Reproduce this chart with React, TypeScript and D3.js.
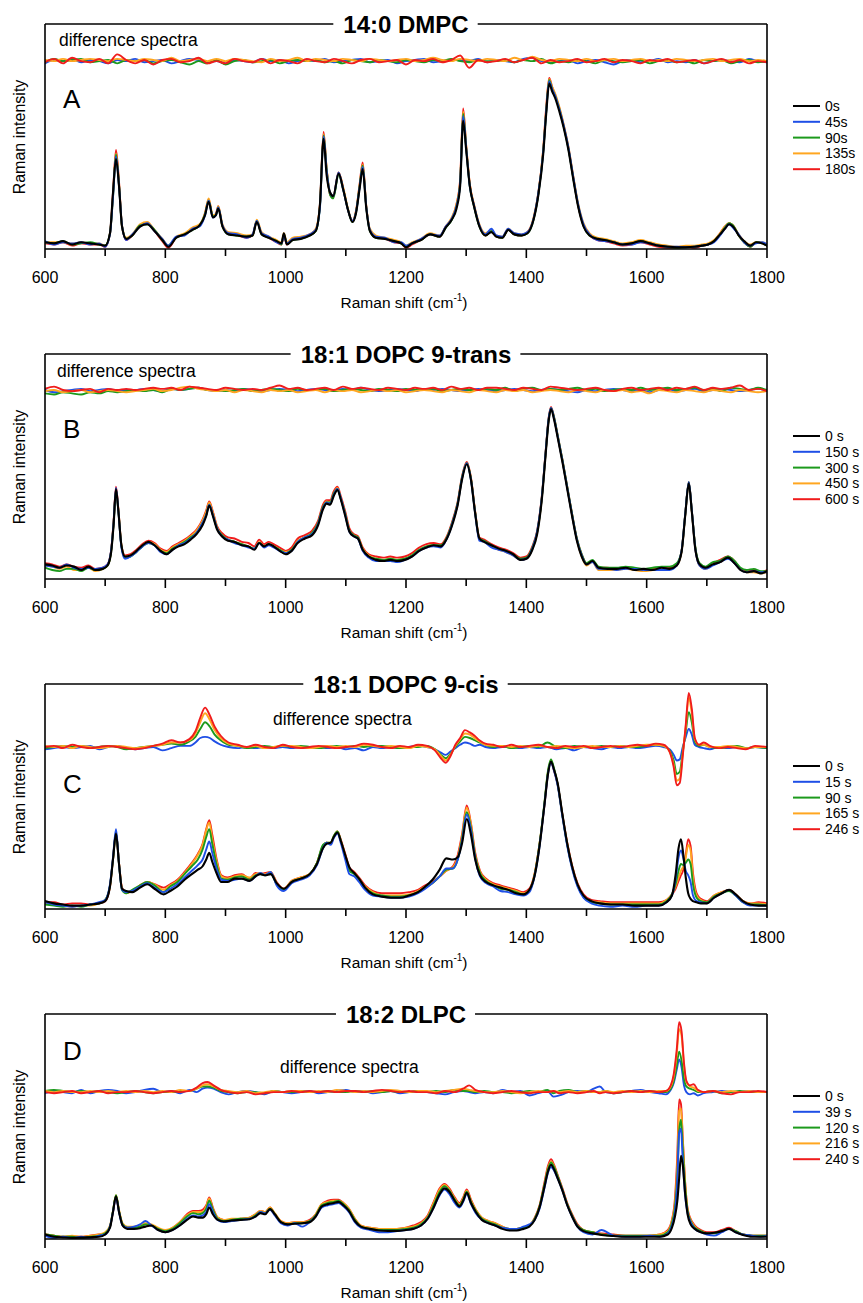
import React, { useLayoutEffect, useRef, useState } from 'react';
import * as d3 from 'd3';

// ---------- shared categories ----------
const MAJOR_TICKS = [600, 800, 1000, 1200, 1400, 1600, 1800];
const MINOR_TICKS = [700, 900, 1100, 1300, 1500, 1700];
const COLORS = ['#000000', '#1f4fe6', '#1c9a1c', '#ffa620', '#f01c1c'];

const TITLES = ['14:0 DMPC', '18:1 DOPC 9-trans', '18:1 DOPC 9-cis', '18:2 DLPC'];
const LETTERS = ['A', 'B', 'C', 'D'];
const LEGEND_A = ['0s', '45s', '90s', '135s', '180s'];
const LEGEND_B = ['0 s', '150 s', '300 s', '450 s', '600 s'];
const LEGEND_C = ['0 s', '15 s', '90 s', '165 s', '246 s'];
const LEGEND_D = ['0 s', '39 s', '120 s', '216 s', '240 s'];

// ---------- Panel A (14:0 DMPC) ----------
const xA = [
  600,615,630,645,660,675,690,700,708,713,
  718,723,728,735,745,758,770,782,795,805,
  818,832,845,857,866,872,879,884,888,895,
  905,920,935,945,952,960,972,985,993,997,
  1002,1012,1025,1040,1050,1057,1063,1068,1074,1079,
  1088,1096,1104,1111,1117,1123,1128,1134,1140,1150,
  1165,1180,1192,1200,1210,1225,1240,1256,1266,1276,
  1284,1290,1295,1300,1306,1313,1322,1332,1342,1350,
  1360,1370,1380,1392,1402,1412,1420,1428,1433,1438,
  1443,1448,1455,1462,1470,1478,1486,1495,1505,1518,
  1530,1545,1560,1575,1590,1605,1620,1635,1650,1665,
  1680,1692,1702,1712,1722,1730,1737,1745,1753,1762,
  1772,1782,1792,1800];
const mainA_0s = [
  3,2.5,3.5,2,3,2.5,2,1.5,7,25,
  40,28,10,4.5,6,10,11,8,4,1,
  5,6.5,8.5,10.5,15,21,14,15,18,10,
  6.5,6,5.5,6,12,6.5,5,3.5,2.5,7,
  2,4,4.5,6,8,20,49,33,25,23.5,
  33.5,26,17,12,16,27,35.5,18,8,5,
  4.5,3.5,2.5,0.8,2.5,4,6.5,5.5,9.5,13,
  18,28,57,44,28,19,10,6,7.5,5.5,
  5,8.5,6.5,6,7,13,24,42,60,73.5,
  70,67,61,54,44,31,19,10,6,4.5,
  4,3,2,2.5,3.5,2.5,1.5,1,0.8,0.8,
  1,1.5,2,3.5,6.5,9,11,9.5,6,3.5,
  1.5,3,2.5,1.5];
const mainA_45s = [
  3.5,2,3,2.5,3,2,2.5,1,6.5,23,
  41,28,10.5,4,6.5,10,11.5,8,4.5,1.5,
  5.5,6,9,10,15,21.5,14,15,18.5,10.5,
  7,6.5,5,6.5,12.5,7,5.5,3,2.5,6,
  2.5,4.5,5,6.5,8.5,18.5,50,35,25,23.5,
  34,26,17,12.5,16.5,27.5,36.5,18.5,8.5,5.5,
  5,3,3,1.5,2.5,4.5,6.5,6,10,13.5,
  19,29,59,45,28,19.5,10.5,6.5,9,6,
  5.5,9,7,6.5,7.5,13.5,25,43,61,74.5,
  71,68,62,55,45,32,20,11,6.5,4,
  3.5,3,2,2,3,2.5,1.5,1,1,0.8,
  1,1.5,2,3,6,9,11,9,6.5,3,
  1.5,2.5,3,2];
const mainA_90s = [
  3,2.5,3.5,2,2.5,3,2,1.5,7,23,
  42,28.5,10,4.5,6,10.5,11,8.5,4,1.5,
  5,6.5,8.5,10.5,15.5,21.5,14.5,15,18.5,10,
  6.5,6,5.5,6,12.5,6.5,5,3.5,2,6.5,
  2.5,4,4.5,6,8,19,50.5,35.5,24,22.5,
  33,26,17,12,16.5,28,37,18.5,8,5,
  4.5,3.5,2.5,1,2.5,4,6.5,5.5,9.5,13,
  19,29.5,60,45,28,19,10,6,8,5.5,
  5,8.5,6.5,6,7,13,24.5,43,61,75,
  71,68,62,54.5,44.5,31.5,19.5,10.5,6,4.5,
  4,3,2,2.5,3.5,2.5,1.5,1,0.5,0.8,
  1,1.5,2,3.5,6.5,9.5,11.5,10,6,3,
  1,3,2.5,1.5];
const mainA_135s = [
  3,3,3,2.5,3,2.5,2.5,1.5,6.5,23.5,
  42.5,29,10.5,5,6.5,11,12,8.5,4.5,1.5,
  5.5,7,9.5,11,16,22.5,15,15.5,19,11,
  7.5,7,6,6.5,13,7.5,5.5,4,3,7,
  3,5,5.5,6.5,9,19.5,51,36,25,23.5,
  34,27,17.5,12.5,17,28.5,37.5,19,9,6,
  5,4,3,1.5,3,4.5,7,6,10,14,
  20,30,61,46,29,20,11,7,8.5,6,
  5.5,9,7,6.5,7.5,14,25,44,62,75.5,
  72,69,63,55.5,45.5,32.5,20.5,11.5,7,5,
  4.5,3.5,2.5,3,4,3,2,1.5,1,1.5,
  1.5,2,2.5,4,7,10,11.5,10,6.5,3.5,
  2,3,3,2];
const mainA_180s = [
  2.5,2,3,1.5,2.5,2,2,1,7,25,
  44,30,10,4,6,10.5,11.5,8,3.5,0.5,
  5,6.5,9,10.5,16,22,14.5,15.5,19,10,
  7,6,5,6,12.5,7,5,3,2,6,
  2,4.5,5,6.5,8.5,20,52,36,24,23,
  34,26.5,17,12.5,17,29,38.5,19,8.5,5,
  4.5,3,2.5,0.5,2,4,6.5,5.5,10,13.5,
  20,31,62.5,46,29,19.5,10.5,6,8,5.5,
  5,8.5,6.5,6,7.5,13.5,25,44,63,76,
  72,68.5,62.5,55,45,32,19.5,10.5,6,4,
  3.5,2.5,1.5,2,3,2,1,0.5,0.5,1,
  0.5,1.5,2,3.5,7,10,11.5,10,6,3,
  1,3,2.5,1.5];

// difference spectra grid shared by A and B
const xDiffAB = [
  600,615,630,645,660,675,690,705,720,735,
  750,765,780,795,810,825,840,855,870,885,
  900,915,930,945,960,975,990,1005,1020,1035,
  1050,1065,1080,1095,1110,1125,1140,1155,1170,1185,
  1200,1215,1230,1245,1260,1275,1290,1305,1320,1335,
  1350,1365,1380,1395,1410,1425,1440,1455,1470,1485,
  1500,1515,1530,1545,1560,1575,1590,1605,1620,1635,
  1650,1665,1680,1695,1710,1725,1740,1755,1770,1785,
  1800];
const diffA_45s = [
  -1,0.5,0,1,-0.5,0.5,0,-1,0.5,0,
  1,-0.5,0,0.5,-1,0,1,0.5,-0.5,0,
  -1,0.5,0,-0.5,1,0,0.5,-1,0,0.5,
  0,1,-0.5,0,0.5,1,-0.5,0,0.5,-1,
  0,0.5,1,-0.5,0,0.5,0.5,0,1,-0.5,
  0.5,0,-0.5,1,1.5,0,-0.5,0,0.5,-1,
  0,0.5,-0.5,-1.5,0,0.5,-0.5,0,1,-0.5,
  0,-0.5,0.5,-1,0,0.5,0,-0.5,1,0,
  -0.5];
const diffA_90s = [
  -0.5,1,0,0.5,1,-0.5,0,0.5,-1,0.5,
  0,0.5,-1,0,0.5,-0.5,-1.5,0,-1,0.5,
  -1.5,0,0.5,-0.5,0,0.5,-1,0,0.5,0,
  0.5,-0.5,0,-1,0.5,0,-0.5,0.5,0,-0.5,
  0.5,0,-0.5,0.5,0,1,0,-0.5,0.5,0,
  0,0.5,-0.5,0.5,0,1,-1,0,-0.5,0.5,
  0,-1,0.5,0,-0.5,0,0.5,-1,0,0.5,
  -0.5,0,-1,0.5,0,0.5,-1,0,0.5,-0.5,
  0];
const diffA_135s = [
  0.5,0,1,0,0.5,1,0.5,0,1,0.5,
  0,1,0.5,0,1.5,0,0.5,1,0,1,
  0,1,0.5,0,-0.5,1,0,0.5,1.5,0,
  1,0.5,0,1,0.5,0,1,0.5,0,0.5,
  1,0,0.5,1.5,0.5,0,1,0.5,0,1,
  0.5,0,1.5,0.5,2,0.5,0,1,0.5,0,
  1,0,0.5,1,0,0.5,1,0,0.5,0,
  1,0.5,0,0.5,1,0,0.5,1,0,0.5,
  0];
const diffA_180s = [
  -0.5,1,-1,1.5,0,-0.5,1,-1,3,0.5,
  -1,0.5,-1.5,0.5,1,-0.5,0,1.5,-1,0,
  -1,1,0,-0.5,1,-1,0.5,0,-1,1,
  0,-0.5,1,0,-1,0.5,1,-0.5,0,0.5,
  -1.5,0.5,0,1,-0.5,0.5,2.5,-3,0.5,-0.5,
  0,1,-0.5,0.5,1.5,-1,0.5,-0.5,0,1,
  -0.5,0,1,-0.5,0.5,0,-1,0.5,0,1,
  -0.5,0,0.5,-1,0,1,-0.5,0.5,-1,0,
  -0.5];

// ---------- Panel B (18:1 DOPC 9-trans) ----------
const xB = [
  600,612,624,636,648,660,672,684,696,704,
  710,714,718,722,727,733,742,752,762,772,
  782,792,802,812,822,832,842,852,862,868,
  873,879,886,894,904,915,927,938,948,956,
  964,972,980,990,1000,1010,1020,1032,1044,1054,
  1062,1068,1074,1080,1086,1092,1099,1106,1113,1120,
  1128,1138,1150,1162,1174,1186,1198,1210,1222,1234,
  1246,1258,1268,1278,1286,1293,1301,1308,1315,1322,
  1330,1342,1354,1366,1378,1390,1400,1410,1418,1426,
  1432,1437,1441,1446,1452,1460,1468,1476,1484,1492,
  1500,1510,1520,1535,1550,1565,1580,1595,1610,1625,
  1638,1650,1658,1664,1670,1675,1681,1688,1698,1710,
  1722,1735,1746,1756,1766,1778,1790,1800];
const mainB_0s = [
  6.5,6,5,6,5.5,4,5.5,4,4.5,6,
  12,24,40,30,15,10,10.5,12.5,15,16.5,
  15,12.5,11,13,14.5,15.5,17.5,20,24,28,
  32.5,28,22,19,17,16.5,15,14.5,13,16,
  14.5,15.5,14.5,12.5,11,12.5,16,18,19.5,24,
  31,33.5,33,37,39.5,35,28,21,19,18,
  13,10,8.5,8,8.5,8,8.5,10,12.5,14,
  15,14.5,18,25,33,44,51,44,29,18,
  16.5,15,13.5,12.5,11,8.5,9,13,20,36,
  55,70,75.5,71,63,52,40,28,17,10,
  6.5,8,5,4.5,4.5,5,4,4.5,4,5,
  4.5,6,12,28,42.5,30,13,6.5,5,6.5,
  7.5,9.5,7,4,3,3.5,2.5,3.5];
const mainB_150s = [
  6,5.5,5,6.5,5,4.5,5,4.5,5,6.5,
  13,25,40.5,30,14,9,10,12,14.5,16,
  15,12,11,13,15,16,18,20.5,25,28.5,
  33,28.5,22.5,19,17.5,16,15,14,13.5,16,
  14,15,14,12.5,11.5,12.5,16.5,18.5,20,24.5,
  31.5,34,33.5,37.5,40,35.5,28.5,21,19,18,
  12.5,9.5,8,8,8,7.5,8.5,10,12.5,14,
  14.5,14,18,25.5,33.5,44.5,51.5,44,29,17,
  16.5,14,13,12,10.5,8.5,9,13.5,21,37,
  56,71,76,71.5,63.5,52.5,40.5,28.5,17.5,10.5,
  6.5,7.5,4.5,4.5,4,4.5,4.5,4,4,4,
  4,6,12.5,28.5,43,30.5,13,6,4.5,6,
  7.5,9,7,4,3,3.5,3,3];
const mainB_300s = [
  5,4,3.5,4.5,4.5,3.5,5,4,4.5,6,
  12.5,24.5,39.5,30,14.5,9.5,10,12,14.5,16,
  15,12.5,11.5,13.5,15,16.5,18.5,20.5,25,28.5,
  33,28.5,22.5,19.5,17.5,16.5,15.5,14.5,13.5,16,
  14.5,15.5,14.5,13,11.5,13,16.5,18.5,20.5,25,
  32,34,34,38,40,35.5,29,21.5,19.5,18.5,
  13,10,9,8.5,9,8.5,9,10.5,13,14.5,
  15,15,18.5,26,34,45,51.5,44.5,29.5,18,
  17,15,13.5,12.5,11,9,9.5,14,21,37,
  56,71,76,72,64,53,41,29,18,11,
  7,8.5,5.5,5,5,5.5,5,4.5,5,5.5,
  5.5,7,12.5,28.5,43,30.5,14,7,5.5,7.5,
  8,10,8,5,4,4.5,3.5,3.5];
const mainB_450s = [
  6,5.5,4.5,5.5,4,4,5,3.5,4.5,6,
  12.5,25,40,30.5,15,10,10.5,12.5,15,16.5,
  15.5,13,12,14,15.5,17,19,21.5,26,30,
  34,29.5,23,19.5,17.5,16.5,15.5,14.5,13.5,16.5,
  14.5,15.5,14.5,13,12,13,17,18.5,20.5,25,
  32,34.5,34,38,40.5,35.5,29,21.5,19.5,18.5,
  13.5,10.5,9,8.5,9,8.5,9,10.5,13,14.5,
  15,14.5,18.5,25.5,33.5,44.5,51.5,44.5,29.5,17.5,
  16.5,14.5,13,12,10.5,8.5,9,13.5,20.5,36.5,
  55.5,70.5,75.5,71.5,63.5,52.5,40.5,28.5,17.5,10,
  6,7.5,4,4,4,4.5,4,3.5,4,4.5,
  4.5,6,12,28,42.5,30,13,6,4.5,6.5,
  7.5,9.5,7,4,3,3,2.5,3];
const mainB_600s = [
  7,6.5,5.5,6.5,5.5,5,6,4.5,5,6.5,
  13,25.5,41,31,15,10.5,11,13,15.5,17,
  16,13.5,12.5,14.5,16,17.5,19.5,22,26.5,30.5,
  34.5,30,23.5,20.5,18.5,18,16.5,16,14.5,17.5,
  15.5,16.5,15.5,14,12.5,14,18,19.5,21.5,26,
  33,35,35,39,41,36.5,30,22.5,20,19,
  14,11,10,9.5,10,9.5,10,11.5,14,15.5,
  16,15.5,19,26.5,34.5,45.5,52,45,30,18.5,
  17.5,15.5,14,13,11.5,9.5,10,14.5,21.5,37.5,
  56.5,71.5,76.5,72,64,53,41,29,18,11,
  7,8,5,5,4.5,5,4.5,4,4.5,5,
  5,6.5,12.5,28.5,43,30.5,13.5,6.5,5,7,
  8.5,10,8,4.5,3.5,4,3,4];
const diffB_150s = [
  0,-1,-0.5,0,0.5,-0.5,0,0.5,-0.5,0,
  0,0.5,0,-0.5,0.5,0,0.5,1,0,-0.5,
  0,-0.5,0.5,0,-0.5,0,0.5,0,-0.5,0,
  0.5,0,-0.5,0.5,0,1,0,-0.5,0,0.5,
  0,-0.5,0.5,0,0.5,0,-0.5,0,0.5,0,
  -0.5,0,0.5,0,-0.5,0,0.5,0,-0.5,-1,
  0,-0.5,0,0.5,0,-0.5,0,-1,0,0.5,
  -0.5,0,0.5,-0.5,0,0.5,0,-0.5,0,0.5,
  -0.5];
const diffB_300s = [
  -1.5,-2,-1,-1.5,-2,-1,-1.5,-0.5,-1,-0.5,
  0,-0.5,0,-1,0.5,0,0.5,1,0,0,
  -0.5,0,0.5,-0.5,0,0.5,0,-0.5,0.5,0,
  0,0.5,-0.5,0,0.5,0,-0.5,0.5,0,-0.5,
  0.5,0,0,0.5,-0.5,0,0.5,0,0,0.5,
  0,1,-0.5,0.5,1,0,0.5,0,0.5,1,
  0,0.5,-0.5,0,0.5,0,1,0,0.5,1,
  0,0.5,1,0,0.5,-0.5,1,0.5,0,1,
  0];
const diffB_450s = [
  -0.5,0,-1,-0.5,0,-1,-0.5,0,-0.5,-1,
  -0.5,0,0.5,-0.5,0,1,1.5,0.5,0,-0.5,
  0,-1,0,-0.5,-1,0,-0.5,0,-1,-0.5,
  0,-1,0,-0.5,0,-1,-0.5,0,-0.5,0,
  -1,-0.5,0,-0.5,-1,0,-0.5,-1,0,-0.5,
  -1,0,-0.5,0,-1,-0.5,0,-0.5,-1,0,
  -0.5,-1,0,-0.5,0,-1,-0.5,-1.5,0,-0.5,
  -1,0,-0.5,-1,0,-0.5,-1,0,-0.5,-1,
  -0.5];
const diffB_600s = [
  0.5,1.5,0,-0.5,0,0.5,-1,0.5,0,0.5,
  0,0.5,1,0.5,1,0,1.5,1,0.5,0,
  1,0.5,0,0.5,0,1,2,0.5,1,0,
  0.5,1,0,1.5,0.5,1,0.5,0,1,0.5,
  0,1,0.5,1,0,1.5,0.5,1,0,1,
  1,0.5,0,1,0.5,0,1.5,1,0.5,0,
  0.5,1,0,-0.5,0.5,1,0,0.5,1,0,
  1,0.5,1.5,0,1,0.5,1,2,0,0.5,
  -0.5];

// ---------- Panel C (18:1 DOPC 9-cis) ----------
const xC = [
  600,615,630,645,660,675,690,700,708,713,
  718,723,728,735,745,758,770,782,797,808,
  820,832,844,854,862,868,873,878,885,893,
  903,915,927,940,950,958,966,975,985,997,
  1010,1025,1040,1052,1062,1068,1075,1080,1086,1092,
  1099,1106,1114,1122,1132,1145,1160,1175,1190,1205,
  1220,1232,1244,1256,1267,1278,1286,1293,1301,1308,
  1315,1323,1333,1345,1357,1370,1383,1395,1405,1414,
  1422,1430,1436,1441,1446,1452,1460,1468,1476,1485,
  1495,1508,1522,1540,1560,1580,1600,1620,1633,1642,
  1648,1653,1657,1661,1665,1669,1673,1677,1683,1690,
  1700,1712,1725,1737,1748,1760,1772,1786,1800];
const mainC_0s = [
  3.5,2.5,2,1.5,1.5,2,2.5,3.5,10,22,
  33.5,20,9,8,7.5,9.5,11,9,6.5,8,
  10,13,15.5,17.5,19,22,25,21,16,12,
  12,13.5,13.5,12.5,14.5,15.5,15,15.5,11.5,9,
  12,13.5,15.5,20,27,29,29.5,32,34,30,
  24,18.5,16,13.5,9.5,6.5,5.5,5,5,6,
  7.5,10,13,17.5,22.5,22,23,29,40,33,
  22,15,12,10.5,9.5,8.5,7,6.5,8.5,15,
  28,46,60,65.5,62,56,42,29,19,11,
  6,3.5,2.5,2,2,1.5,1.5,1.5,3,6,
  15,27,31,24,14,7,4.5,3.5,3,2.5,
  2.5,5,7,8.5,6.5,3.5,2,1.5,1.5];
const mainC_15s = [
  3,2,1.5,1,1.5,2,3,4,11,23,
  35.5,20,8.5,7.5,8,10,11.5,9.5,7.5,9,
  11,14,17,19.5,22,26.5,30,25,18,13,
  12.5,13,13.5,12.5,14.5,16,15,16.5,10.5,8,
  11.5,13,15,19.5,27,29.5,28.5,31.5,33.5,29,
  22,15.5,14.5,12,8.5,6,5.5,5,5,5.5,
  7,9,11.5,14.5,18,18,22,30,42,35,
  22.5,14.5,11.5,10,8,7.5,6.5,6,7.5,15,
  28,46,60,65,61.5,55,41,28,18,10,
  5,2.5,1.5,1,1.5,1,1.5,1.5,3,6,
  13,23,26,22.5,17,15,12,6,3.5,3,
  2.5,5,7,8.5,6,3,1.5,1.5,1.5];
const mainC_90s = [
  2,1.5,1,1.5,1,2,2.5,4,10.5,22,
  34,20,8.5,7,8.5,10.5,12,10.5,7.5,10,
  12,15.5,19,22,26.5,32,35.5,29,20,13.5,
  13,14,14.5,13,15,15.5,15,16,11,8.5,
  12,13.5,15.5,20.5,28.5,29.5,29.5,32.5,34.5,30,
  23.5,17,15.5,13,9.5,7,6,5.5,5.5,6,
  7.5,9.5,11.5,14.5,17.5,18,22,31,43,36,
  23.5,16,12.5,10.5,9,8.5,7.5,6.5,8,15.5,
  29,47,61.5,66.5,62.5,55.5,41.5,28.5,18.5,10.5,
  5.5,3,2.5,2,2,2,2,2,3.5,6.5,
  11,17,20,19.5,20.5,22,20,11,5,3.5,
  3,5.5,7,8,6,3,2,2,1.5];
const mainC_165s = [
  2.5,2,1.5,1,1.5,1.5,2.5,4,10,22.5,
  34,20.5,9,7,8,10.5,12,11,8.5,10.5,
  12.5,16,20,24,28.5,35,38.5,31,21.5,14.5,
  13.5,14.5,15,14,15.5,16,15.5,16.5,11.5,9,
  12.5,14,15.5,20.5,28,29.5,29.5,32.5,34.5,30,
  24,18,16,13.5,10,7.5,6,6,6,6.5,
  8,10,11.5,14.5,17,18.5,23,32,45,37.5,
  24,16.5,13,11,10,9,8,7,8.5,16,
  29,46.5,61,66,62,55.5,41.5,29,19,11,
  6,3.5,3,2.5,2.5,2.5,2.5,2.5,4,6.5,
  10,14,17,19,23,28.5,26,14,6,4,
  3,6,7.5,8.5,6.5,3.5,2.5,2.5,2];
const mainC_246s = [
  3,3,2,2.5,2.5,2,2.5,3.5,10,22,
  33.5,20.5,9.5,7.5,8,10.5,12,11,9.5,11,
  13,16.5,20.5,24.5,29,35.5,39.5,33,22.5,15,
  14,15,15.5,13.5,16,15.5,16,16.5,12,9,
  12.5,14,15.5,20.5,28,29.5,29,32,34.5,30.5,
  24.5,18.5,16.5,14,10.5,8,7,7,7,7.5,
  8.5,10.5,12,14.5,17,19,24,33,46,38,
  25,17,13.5,11.5,10.5,9.5,8.5,7.5,9,16,
  29,46,60.5,65.5,61.5,55.5,42,29.5,19.5,11.5,
  6.5,4,3.5,3,3,3,3,3,4,6.5,
  9,12.5,15,17.5,24,31,28,16,7,4.5,
  3.5,6,7.5,8.5,6.5,3.5,2.5,3,2.5];
const xDiffC = [
  600,615,630,645,660,675,690,705,720,735,
  750,765,780,795,810,825,840,850,858,866,
  874,882,892,905,920,935,950,965,980,995,
  1010,1025,1040,1055,1070,1085,1100,1115,1130,1145,
  1160,1175,1190,1205,1220,1235,1248,1258,1266,1274,
  1282,1290,1298,1306,1314,1322,1332,1345,1360,1375,
  1390,1405,1420,1435,1450,1465,1480,1495,1510,1525,
  1540,1555,1570,1585,1600,1615,1628,1638,1645,1650,
  1655,1660,1665,1670,1675,1680,1687,1695,1705,1720,
  1735,1750,1765,1780,1800];
const diffC_15s = [
  -1,-0.5,0,-0.5,0,0.5,-1,0,0.5,-0.5,
  -1,-0.5,0,-1.5,-0.5,0.5,0.5,2,4,4.5,
  4,2.5,1,0,-0.5,0,-0.5,0,-0.5,0,
  -0.5,0,-0.5,0,-0.5,0,-1,-0.5,-1.5,0,
  -0.5,0,-0.5,0,0.5,0,-1,-2.5,-3.5,-2,
  -0.5,1,2,1.5,0.5,1,0,-0.5,0,0,
  -0.5,0,-0.5,0,-1,-0.5,-1.5,0,-0.5,-1,
  0,-0.5,0,-0.5,0,0.5,0,-1,-3.5,-6,
  -5.5,0,4.5,8,5.5,1,0,-0.5,-1,0,
  -0.5,0,-0.5,0,-0.5];
const diffC_90s = [
  -0.5,0,0.5,0,0.5,-0.5,0,0.5,0,-1,
  -0.5,0,0.5,1,1.5,1,2.5,4.5,8,11,
  9,5.5,3,1,0.5,-0.5,0,0.5,0,0.5,
  0,0.5,0,-0.5,0,0.5,0,0.5,0,0.5,
  0.5,0,-0.5,0,0,0.5,-1,-3.5,-5,-3,
  0,2.5,4.5,4,3,2,1,0,0.5,-0.5,
  0,0.5,0,2,0,-0.5,0.5,0,0,0.5,
  0,0.5,0,0,0.5,1,0.5,-1.5,-6,-12,
  -11,-2,7,15.5,11,2.5,0.5,1,0,-0.5,
  0,0.5,-0.5,0,-0.5];
const diffC_165s = [
  0.5,0,0.5,-0.5,0.5,0,-0.5,0,0.5,0,
  -0.5,0,0.5,1,2,2,3,6,11,15,
  12,7.5,4,1.5,0.5,0,0.5,-0.5,0,0.5,
  0.5,0,-0.5,0,0.5,0,0.5,0,1,0.5,
  0,0.5,0,-0.5,0.5,0,-1,-4,-6,-3.5,
  0.5,3.5,6,5.5,4,2.5,1,0.5,0.5,0,
  0.5,0,0.5,0,0.5,0,-0.5,0,0.5,0,
  0,0.5,0,0.5,1,1,0.5,-2,-8,-15,
  -14,-3,9,22,15,3.5,1,1,0,0,
  0.5,0,-0.5,0,0];
const diffC_246s = [
  0,0.5,-0.5,1,0,-0.5,0,0.5,0,-0.5,
  -1,-0.5,0.5,1.5,3,2,3.5,7,13,17.5,
  14,9,5,2,1,0,1,0,-0.5,1,
  0,-0.5,0,0.5,0,-0.5,0,0.5,1.5,1,
  0,-0.5,0.5,0,1,0.5,-1.5,-5,-7,-4,
  1,4,7.5,6.5,5,3,1.5,1,0,1,
  0,0.5,1,0,-0.5,0.5,0,0.5,-0.5,0,
  0.5,0,0.5,1,0.5,1.5,1,-2,-9,-17,
  -16,-4,10,24,17,4,1,2,0.5,-0.5,
  0,-0.5,-1,0.5,0];

// ---------- Panel D (18:2 DLPC) ----------
const xD = [
  600,615,630,645,660,675,690,700,708,713,
  718,723,729,737,748,758,767,777,788,800,
  812,824,836,846,855,862,868,873,879,887,
  897,910,925,940,950,958,966,974,982,992,
  1003,1015,1028,1040,1050,1060,1070,1080,1088,1096,
  1105,1115,1125,1140,1155,1170,1185,1200,1212,1225,
  1236,1246,1256,1264,1272,1281,1289,1295,1301,1308,
  1316,1326,1337,1348,1360,1372,1384,1395,1405,1414,
  1422,1430,1436,1441,1446,1452,1460,1468,1476,1485,
  1495,1510,1525,1545,1565,1585,1605,1622,1635,1642,
  1647,1651,1654,1657,1660,1664,1668,1673,1680,1690,
  1700,1712,1725,1737,1748,1760,1775,1790,1800];
const mainD_0s = [
  2,1,0.7,0.5,0.6,0.8,1,2,5,12,
  19,12,6,4.5,4.5,4.8,5.5,6,4,3,
  4,6,8.5,10,9.5,9.5,11,14,11,8.5,
  7.8,8.2,8.5,8.8,10,11.5,11,13.3,11,7.5,
  6.5,6.8,7,7.5,10,14.5,15.5,16,16.5,15,
  12.5,8,5.5,4.5,3.8,3.6,3.6,4,4.5,6,
  9,14,20,22.5,21,17,14.5,17,20.5,16,
  12,8.5,7,6,4.5,3.8,3.8,4.5,5.5,8.5,
  14,23,30,33,31,27,21.5,15,10,5.5,
  3.5,2.5,1.8,1.3,1,1,1,1,2,5,
  10,17,27,37,33,20,11,6.5,4.5,3,
  2.5,2.8,3.5,4.5,3,1.8,1,1,1];
const mainD_39s = [
  1.5,0.5,1,0.5,1,0.5,1.5,2,5.5,12,
  18.5,12,6,5,5.5,6.5,8,6,4,3,
  4,6,9,10.5,10,10.5,12,15.5,12,8.5,
  7.5,8,8.5,9,10,12,11.5,13,10.5,7,
  6,7,5.5,7.5,10,14,15,15.5,16,14.5,
  12,7.5,5,4,3,3,3.5,4,4.5,6,
  9,14,19.5,22,20,16,14,16.5,20,15.5,
  11.5,8.5,7,6,5,4.5,4.5,5.5,6.5,8.5,
  13.5,22.5,29.5,32,30.5,27,21.5,15,10,5.5,
  3,2,4,1.5,1,1,1.5,1,2.5,6,
  12,26,47,49,35,19,11.5,7.5,4.5,3,
  2,1.5,3,4.5,3,2,1.5,1,1.5];
const mainD_120s = [
  2,1.5,1,1,0.5,1,1.5,2.5,5.5,12.5,
  19.5,12.5,6.5,5,5,5.5,6.5,6,4.5,3.5,
  4.5,7,10,11.5,11,11.5,13.5,17,13,9,
  8,8.5,9,9,10.5,12,11.5,13.5,11,7.5,
  6.5,7,7,8,10.5,15,16,16.5,17,15.5,
  13,8.5,5.5,4.5,4,4,4,4.5,5,6.5,
  9.5,15,21,23.5,21.5,17.5,15,17.5,21,16.5,
  12.5,9,7.5,6.5,5,4.5,4.5,5,6,9,
  14.5,24,31,34,32,28,22,15.5,10.5,6,
  4,3,2,1.5,1.5,1.5,1.5,1.5,3,7,
  14,28,48,53,40,23,12.5,8,5,3.5,
  2.5,2.5,3.5,4.5,3.5,2,1.5,1.5,1.5];
const mainD_216s = [
  2,1.5,1,1.5,1,1.5,2,3,6,12.5,
  19.5,13,7,5.5,5.5,6,7,6.5,5,4,
  5,7.5,10.5,12,12,12,14.5,18,13.5,9.5,
  8.5,9,9,9.5,11,12.5,12,14,11.5,8,
  7,7.5,7.5,8,11,15.5,16.5,17,17,16,
  13.5,9,6,5,4.5,4.5,4.5,5,5.5,7,
  10,16,22,24,22,18,15.5,18,21.5,17,
  13,9.5,8,7,5.5,4.5,4.5,5,6,9,
  14.5,24,31.5,34.5,32.5,28,22,15.5,10.5,6,
  4,3,2,1.5,1.5,1.5,1.5,2,3.5,8,
  16,33,57,58,44,25,13,8.5,5.5,3.5,
  2.5,2.5,3.5,4.5,3.5,2,1.5,1.5,1.5];
const mainD_240s = [
  2,1.5,1,1,1,1.5,2,2.5,5.5,12,
  19,12.5,6.5,5,5,5.5,6.5,6,4.5,3.5,
  5,7.5,11,12.5,12.5,13,15,18.5,14,9.5,
  8.5,8.5,9,9.5,11,12.5,12,14,11,8,
  7,7.5,7.5,8.5,11,15.5,17,17.5,17.5,16,
  13.5,9,6,5,4.5,4.5,4.5,5,6,7.5,
  10.5,16.5,22.5,24.5,22.5,18.5,16,18.5,22,17.5,
  13,9.5,8,7,5.5,4.5,4.5,5,6,9.5,
  15,25,32.5,35.5,33,28.5,22.5,16,11,6.5,
  4,3,2.5,2,1.5,1.5,1.5,2,4,8.5,
  18,38,62,60,45,25,13.5,9,6,4,
  3,3,4,5,3.5,2,1.5,1.5,1.5];
const xDiffD = [
  600,615,630,645,660,675,690,705,720,735,
  750,765,780,795,810,825,840,852,862,870,
  880,892,905,920,935,950,965,980,995,1010,
  1025,1040,1055,1070,1085,1100,1115,1130,1145,1160,
  1175,1190,1205,1220,1235,1250,1265,1280,1295,1305,
  1315,1330,1345,1360,1375,1390,1405,1420,1435,1445,
  1455,1470,1485,1500,1512,1522,1532,1545,1560,1575,
  1590,1605,1620,1632,1640,1645,1650,1654,1658,1662,
  1666,1672,1678,1685,1695,1710,1725,1740,1755,1770,
  1785,1800];
const diffD_39s = [
  -0.5,0.5,0,-0.5,1,-0.5,0.5,1,0.5,-0.5,
  0,1,1.5,0,0.5,-0.5,1,0,1.5,2,
  1.5,0,-1,0,0.5,0,-1,0.5,0,-0.5,
  0,0.5,-0.5,0,0.5,1,0,0.5,-0.5,0,
  0.5,-0.5,0,0.5,0,-0.5,-1,0,0.5,0,
  -0.5,0,-0.5,1,0,0.5,-1.5,-0.5,0.5,-2,
  -1.5,0,0.5,0,1.5,2.5,0,-0.5,0,0.5,
  1,0,-0.5,-1,1,4,10,14.5,11,3,
  0,-1,-0.5,-1.5,-0.5,0,0.5,0,0,0.5,
  0,0];
const diffD_120s = [
  0.5,1,0.5,0,0.5,0,0.5,0,-0.5,0,
  0.5,0,-0.5,0,0,0.5,0.5,1.5,2.5,2.5,
  2,0.5,0,-0.5,0,0,-0.5,0.5,0,0,
  0.5,0,0,0.5,0,0,0.5,0,0.5,0,
  0.5,0,0,0.5,0,0.5,0,1,0.5,0.5,
  0,0.5,0,0,-0.5,0,0.5,0,1,-0.5,
  0.5,1,0,0.5,0,0,0.5,-0.5,0,0.5,
  0,0.5,0,0,1.5,5,12,18,14,6,
  2.5,1.5,1,0,0,0.5,-0.5,0,0.5,0,
  0,0];
const diffD_216s = [
  0.5,0,0.5,0,0,0.5,0,0.5,0,0.5,
  0,0.5,0,0.5,0,1,0.5,1.5,3,3.5,
  2.5,1,0.5,0,0.5,-0.5,0,0.5,0,0.5,
  0.5,0,0.5,0,1,0.5,0,0.5,0,0.5,
  1,0.5,0,0.5,0.5,0,0.5,1,1.5,1,
  0.5,0,0,0.5,0,-0.5,0,0.5,0,0.5,
  0,0.5,0,0.5,0,0,0.5,0,0.5,0,
  0.5,0,0.5,0.5,2.5,7,17,28,25,12,
  4.5,2.5,2,0.5,0,0.5,0,0.5,0,0.5,
  0,0];
const diffD_240s = [
  0,-0.5,0,0.5,-0.5,0,0.5,-0.5,0,0,
  0.5,0,-0.5,0,0.5,0,0.5,2,4,4.5,
  3,1,0,-0.5,0,-1,-0.5,0,0,0.5,
  0,0.5,0,0.5,0,0.5,0.5,0,0.5,1,
  0.5,0,0.5,0,0,-0.5,0.5,0,1.5,3,
  1,0,-0.5,0,0.5,0,-0.5,0,0,0.5,
  -0.5,0,-0.5,0,0.5,-0.5,0,-0.5,0,0.5,
  0,0.5,0,0.5,3,8,19,31,27,13,
  5,3,3.5,1,0,0.5,-0.5,-1,0,0,
  0.5,0];

// ---------- layout ----------
const W = 863;
const H = 1303;
const PLOT_L = 45;
const PLOT_R = 767;
const PANEL_H = 225;
const TOPS = [24, 354, 684, 1014];
const FONT = "'Liberation Sans', Arial, Helvetica, sans-serif";

type PanelCfg = {
  title: string;
  letter: string;
  letterY: number;
  diffLabel: { x: number; y: number };
  x: number[];
  main: number[][];
  diffX: number[];
  diff: number[][];
  diffOffset: number;
  legend: string[];
};

const PANELS: PanelCfg[] = [
  {
    title: TITLES[0], letter: LETTERS[0], letterY: 84, diffLabel: { x: 59, y: 21.5 },
    x: xA, main: [mainA_0s, mainA_45s, mainA_90s, mainA_135s, mainA_180s],
    diffX: xDiffAB, diff: [diffA_45s, diffA_90s, diffA_135s, diffA_180s], diffOffset: 83.5,
    legend: LEGEND_A,
  },
  {
    title: TITLES[1], letter: LETTERS[1], letterY: 84, diffLabel: { x: 57, y: 23 },
    x: xB, main: [mainB_0s, mainB_150s, mainB_300s, mainB_450s, mainB_600s],
    diffX: xDiffAB, diff: [diffB_150s, diffB_300s, diffB_450s, diffB_600s], diffOffset: 84,
    legend: LEGEND_B,
  },
  {
    title: TITLES[2], letter: LETTERS[2], letterY: 109, diffLabel: { x: 273, y: 41 },
    x: xC, main: [mainC_0s, mainC_15s, mainC_90s, mainC_165s, mainC_246s],
    diffX: xDiffC, diff: [diffC_15s, diffC_90s, diffC_165s, diffC_246s], diffOffset: 72,
    legend: LEGEND_C,
  },
  {
    title: TITLES[3], letter: LETTERS[3], letterY: 46, diffLabel: { x: 280, y: 59 },
    x: xD, main: [mainD_0s, mainD_39s, mainD_120s, mainD_216s, mainD_240s],
    diffX: xDiffD, diff: [diffD_39s, diffD_120s, diffD_216s, diffD_240s], diffOffset: 65.3,
    legend: LEGEND_D,
  },
];

function Panel({ cfg, top, idx }: { cfg: PanelCfg; top: number; idx: number }) {
  const bottom = top + PANEL_H;
  const x = d3.scaleLinear().domain([600, 1800]).range([PLOT_L, PLOT_R]);
  const y = d3.scaleLinear().domain([0, 100]).range([bottom, top]);
  const titleRef = useRef<SVGTextElement>(null);
  const [tw, setTw] = useState(cfg.title.length * 12);
  useLayoutEffect(() => {
    if (titleRef.current) setTw(titleRef.current.getComputedTextLength());
  }, [cfg.title]);
  const cx = (PLOT_L + PLOT_R) / 2;
  const gapL = cx - tw / 2 - 10;
  const gapR = cx + tw / 2 + 9;

  const mkLine = (xs: number[], off: number) =>
    d3
      .line<number>()
      .defined((_, i) => i < xs.length)
      .x((_, i) => x(xs[i]))
      .y((d) => y(d + off))
      .curve(d3.curveMonotoneX);

  const mainLine = mkLine(cfg.x, 0);
  const diffLine = mkLine(cfg.diffX, cfg.diffOffset);
  const clipId = `clip-${idx}`;
  const mainOrder = [4, 3, 2, 1, 0];

  return (
    <g>
      <defs>
        <clipPath id={clipId}>
          <rect x={PLOT_L} y={top} width={PLOT_R - PLOT_L} height={PANEL_H} />
        </clipPath>
      </defs>
      <g clipPath={`url(#${clipId})`} fill="none" strokeLinejoin="round" strokeLinecap="round">
        {cfg.diff.map((s, i) => (
          <path key={`d${i}`} d={diffLine(s.slice(0, cfg.diffX.length)) || ''} stroke={COLORS[i + 1]} strokeWidth={1.9} />
        ))}
        {mainOrder.map((si) => (
          <path key={`m${si}`} d={mainLine(cfg.main[si].slice(0, cfg.x.length)) || ''} stroke={COLORS[si]} strokeWidth={si === 0 ? 2.1 : 1.9} />
        ))}
      </g>
      {/* frame */}
      <g stroke="#000" strokeWidth={1.6} fill="none">
        <line x1={PLOT_L} y1={top} x2={gapL} y2={top} />
        <line x1={gapR} y1={top} x2={PLOT_R} y2={top} />
        <line x1={PLOT_L} y1={top} x2={PLOT_L} y2={bottom} />
        <line x1={PLOT_R} y1={top} x2={PLOT_R} y2={bottom} />
        <line x1={PLOT_L} y1={bottom} x2={PLOT_R} y2={bottom} />
        {MAJOR_TICKS.map((t) => (
          <line key={`M${t}`} x1={x(t)} x2={x(t)} y1={bottom} y2={bottom + 9} />
        ))}
        {MINOR_TICKS.map((t) => (
          <line key={`m${t}`} x1={x(t)} x2={x(t)} y1={bottom} y2={bottom + 7} />
        ))}
      </g>
      <g fontFamily={FONT} fill="#000">
        {MAJOR_TICKS.map((t) => (
          <text key={`l${t}`} x={x(t)} y={bottom + 34} fontSize={16} textAnchor="middle">
            {t}
          </text>
        ))}
        <text x={404} y={top + 284} fontSize={15.5} textAnchor="middle">
          Raman shift (cm
          <tspan fontSize={10} dy={-7}>-1</tspan>
          <tspan dy={7}>)</tspan>
        </text>
        <text
          transform={`translate(19, ${top + 113}) rotate(-90)`}
          fontSize={16}
          textAnchor="middle"
          dominantBaseline="central"
        >
          Raman intensity
        </text>
        <text ref={titleRef} x={cx} y={top + 9} fontSize={24} fontWeight="bold" textAnchor="middle">
          {cfg.title}
        </text>
        <text x={63} y={top + cfg.letterY} fontSize={26}>
          {cfg.letter}
        </text>
        <text x={cfg.diffLabel.x} y={top + cfg.diffLabel.y} fontSize={17.5}>
          difference spectra
        </text>
        {cfg.legend.map((lab, i) => {
          const ly = top + 82 + i * 15.8;
          return (
            <g key={lab}>
              <line x1={793} x2={820} y1={ly} y2={ly} stroke={COLORS[i]} strokeWidth={2} />
              <text x={825} y={ly} fontSize={14} dominantBaseline="central">
                {lab}
              </text>
            </g>
          );
        })}
      </g>
    </g>
  );
}

export default function App() {
  return (
    <svg
      width={W}
      height={H}
      viewBox={`0 0 ${W} ${H}`}
      style={{ position: 'absolute', left: 0, top: 0, display: 'block', background: '#fff' }}
    >
      <rect x={0} y={0} width={W} height={H} fill="#fff" />
      {PANELS.map((p, i) => (
        <Panel key={i} cfg={p} top={TOPS[i]} idx={i} />
      ))}
    </svg>
  );
}
